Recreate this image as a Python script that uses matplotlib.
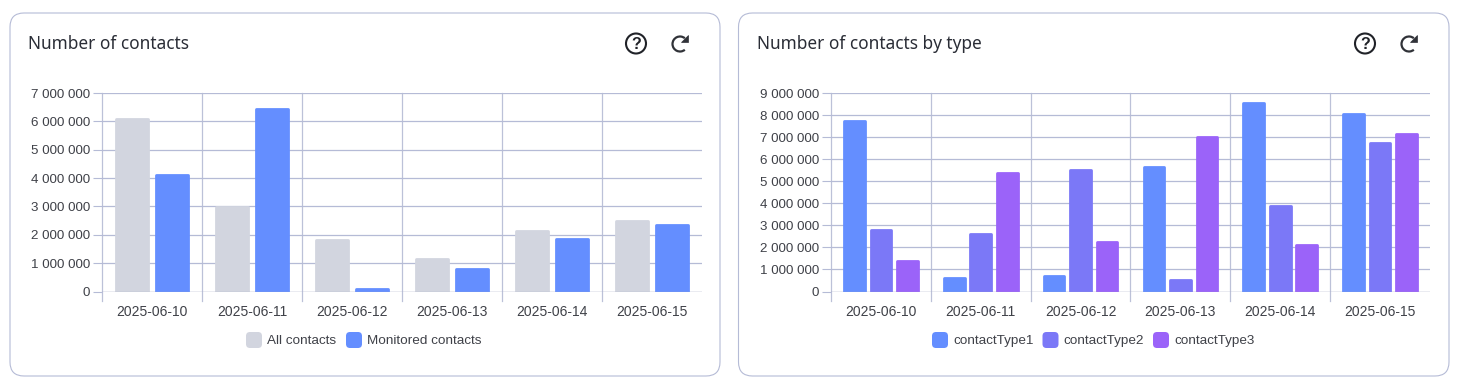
import matplotlib
matplotlib.use("Agg")
import matplotlib.pyplot as plt
from matplotlib.patches import FancyBboxPatch, Circle, Arc, Polygon
import numpy as np

W, H = 1460, 389
dates = ["2025-06-10", "2025-06-11", "2025-06-12", "2025-06-13", "2025-06-14", "2025-06-15"]
all_contacts = [6130000, 3030000, 1850000, 1190000, 2180000, 2530000]
monitored = [4150000, 6490000, 130000, 830000, 1900000, 2410000]
type1 = [7790000, 670000, 750000, 5710000, 8610000, 8100000]
type2 = [2840000, 2650000, 5570000, 580000, 3950000, 6810000]
type3 = [1440000, 5420000, 2290000, 7070000, 2190000, 7200000]
GREY, BLUE, INDIGO, PURPLE = "#D2D5DF", "#648EFF", "#7B78F7", "#9B63F9"
GRID, BORDER, TXT = "#BCC1D8", "#B5BBD6", "#3F4148"

plt.rcParams["font.family"] = ["Liberation Sans", "DejaVu Sans"]
fig = plt.figure(figsize=(W / 100, H / 100), dpi=100, facecolor="white")
bg = fig.add_axes([0, 0, 1, 1])
bg.set_xlim(0, W); bg.set_ylim(H, 0); bg.axis("off")
PX = 72 / 100


def fmt(v):
    return f"{int(v):,}".replace(",", " ")


def icons(cx, cy):
    bg.add_patch(Circle((cx, cy), 10, fill=False, ec="#202228", lw=1.5))
    bg.text(cx, cy + .5, "?", ha="center", va="center", fontsize=11.5, color="#202228", weight="bold")
    rx = cx + 44
    bg.add_patch(Arc((rx, cy + .5), 15, 15, theta1=-310, theta2=-50, ec="#303238", lw=1.6))
    bg.add_patch(Polygon([[rx + 8, cy - 9], [rx + 8, cy - 2], [rx + 1, cy - 2]], closed=True, fc="#303238", ec="#303238", lw=.5))


def card(x0, x1, ax_x0, ax_x1, title, series, colors, labels, ymax, bw, gap, legend_x, leg_step):
    bg.add_patch(FancyBboxPatch((x0 + 14, 13 + 14), x1 - x0 - 28, 363 - 28,
                                boxstyle="round,pad=14,rounding_size=14", fc="white", ec=BORDER, lw=0.8))
    bg.text(x0 + 18.5, 44, title, ha="left", va="center", fontsize=12.4, color="#2A2D36", family="Noto Sans")
    icons(x1 - 84, 43.5)
    ax = fig.add_axes([ax_x0 / W, 1 - 291.5 / H, (ax_x1 - ax_x0) / W, (291.5 - 93) / H])
    ax.set_facecolor("none")
    ax.set_xlim(-0.5, 5.5); ax.set_ylim(0, ymax)
    n = len(series)
    unit = (ax_x1 - ax_x0) / 6
    step = (bw + gap) / unit
    lw_pt = 2.0
    lw_px = lw_pt / PX
    per_px = ymax / 198.5
    for i, (vals, c, lab) in enumerate(zip(series, colors, labels)):
        pos = np.arange(6) + (i - (n - 1) / 2) * step
        heights = np.maximum(np.array(vals, float) - per_px * lw_px / 2, 0)
        bars = ax.bar(pos, heights, width=(bw - 0.5 - lw_px) / unit, color=c, edgecolor=c, linewidth=lw_pt, label=lab, zorder=3)
        for b in bars:
            b.set_joinstyle("round")
    ticks = np.arange(0, ymax + 1, 1000000)
    ax.set_yticks(ticks)
    ax.set_yticklabels([fmt(v) for v in ticks])
    ax.set_xticks(np.arange(6)); ax.set_xticklabels(dates)
    ax.tick_params(axis="x", length=0, pad=9.5, labelsize=10, labelcolor=TXT)
    ax.tick_params(axis="y", length=6.5, color=BORDER, width=0.8, pad=2, labelsize=9.6, labelcolor=TXT)
    ax.grid(axis="y", color=BORDER, lw=0.9, zorder=0)
    for s in ax.spines.values():
        s.set_visible(False)
    ax.axhline(0, color="#A0A6C0", lw=0.9, zorder=4)
    for k in range(6):
        ax.plot([k - .5, k - .5], [-9 / 198.5, 1], transform=ax.get_xaxis_transform(), color=GRID, lw=0.9, zorder=1, clip_on=False)
    x = legend_x
    for lab, c in zip(labels, colors):
        bg.add_patch(FancyBboxPatch((x + 4, 336), 8, 8, boxstyle="round,pad=4,rounding_size=4", fc=c, ec="none"))
        bg.text(x + 21, 341, lab, ha="left", va="center", fontsize=9.7, color=TXT)
        x += leg_step


card(10, 720, 102, 702, "Number of contacts", [all_contacts, monitored], [GREY, BLUE],
     ["All contacts", "Monitored contacts"], 7000000, 36, 4, 246, 100)
card(738.5, 1449, 831, 1430, "Number of contacts by type", [type1, type2, type3], [BLUE, INDIGO, PURPLE],
     ["contactType1", "contactType2", "contactType3"], 9000000, 24, 2.5, 932, 110.5)
fig.savefig("out.png", dpi=100, facecolor="white")
